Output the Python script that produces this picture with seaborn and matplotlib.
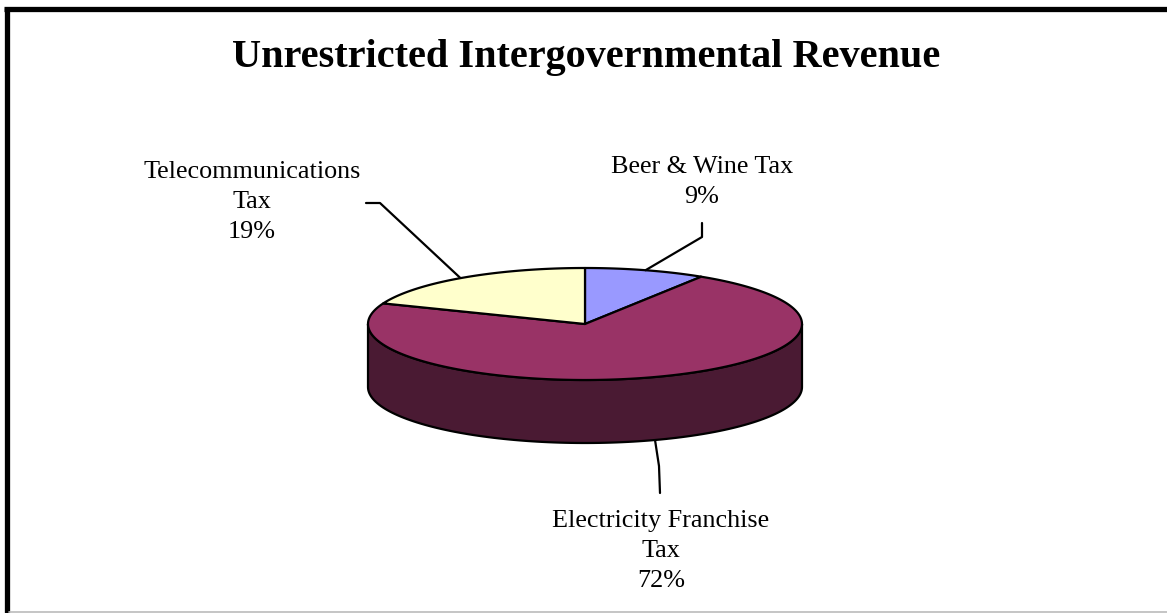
import numpy as np
import matplotlib
matplotlib.use("Agg")
import matplotlib.pyplot as plt
from matplotlib.patches import Polygon
from matplotlib.lines import Line2D
import seaborn as sns

# ---- data ----
categories = ["Beer & Wine Tax", "Electricity Franchise Tax", "Telecommunications Tax"]
shares = [9, 72, 19]
label_lines = ["Beer & Wine Tax\n9%", "Electricity Franchise\nTax\n72%", "Telecommunications\nTax\n19%"]
top_colors = ["#9999FF", "#993366", "#FFFFCC"]
side_colors = ["#4D4D80", "#4A1A33", "#808066"]
title = "Unrestricted Intergovernmental Revenue"

sns.set_theme(style="white")
plt.rcParams["font.family"] = ["Liberation Serif", "DejaVu Serif"]

W, H = 1167, 613
fig = plt.figure(figsize=(W / 100, H / 100), dpi=100)
ax = fig.add_axes([0, 0, 1, 1])
ax.set_xlim(0, W)
ax.set_ylim(H, 0)
ax.axis("off")

# geometry (pixel space)
cx, cy, a, b, depth = 585, 324, 217, 56, 63

def pt(theta_deg, dy=0):
    t = np.radians(theta_deg)
    return cx + a * np.sin(t), cy - b * np.cos(t) + dy

total = float(sum(shares))
starts, ends = [], []
acc = 0.0
for s in shares:
    starts.append(acc / total * 360)
    acc += s
    ends.append(acc / total * 360)

# side walls (front half: 90..270 deg)
for s, e, c in zip(starts, ends, side_colors):
    lo, hi = max(s, 90), min(e, 270)
    if hi <= lo:
        continue
    th = np.linspace(lo, hi, 120)
    top = [pt(t) for t in th]
    bot = [pt(t, depth) for t in th[::-1]]
    ax.add_patch(Polygon(top + bot, closed=True, facecolor=c, edgecolor="black",
                         lw=1.6, joinstyle="round", zorder=1))

# top faces
for s, e, c in zip(starts, ends, top_colors):
    th = np.linspace(s, e, 200)
    verts = [(cx, cy)] + [pt(t) for t in th]
    ax.add_patch(Polygon(verts, closed=True, facecolor=c, edgecolor="black",
                         lw=1.6, joinstyle="round", zorder=2))

fs = 18.8
ls = 1.47
# leader lines and labels
mids = [(s + e) / 2 for s, e in zip(starts, ends)]
# Beer & Wine
x0, y0 = pt(mids[0])
ax.add_line(Line2D([x0, 702, 702], [y0, 237, 223], color="black", lw=1.6, zorder=3))
ax.text(702, 182, label_lines[0], ha="center", va="center", fontsize=fs,
        linespacing=ls, color="black")
# Electricity
x1, y1 = pt(mids[1], depth)
ax.add_line(Line2D([x1 + 3, 659, 660], [y1, 466, 493], color="black", lw=1.6, zorder=3))
ax.text(661, 551, label_lines[1], ha="center", va="center", fontsize=fs,
        linespacing=ls, color="black")
# Telecommunications
x2, y2 = pt(mids[2])
ax.add_line(Line2D([x2 - 3, 380, 366], [y2, 203, 203], color="black", lw=1.6, zorder=3))
ax.text(252, 202, label_lines[2], ha="center", va="center", fontsize=fs,
        linespacing=ls, color="black")

# title
ax.text(586, 57, title, ha="center", va="center", fontsize=29, fontweight="bold",
        color="black")

# frame
ax.add_line(Line2D([6.5, 6.5], [8, H], color="black", lw=3.8, solid_capstyle="butt"))
ax.add_line(Line2D([4, W], [8.5, 8.5], color="black", lw=3.8, solid_capstyle="butt"))
ax.add_line(Line2D([9, W], [612, 612], color="#BBBBBB", lw=1.2))

fig.savefig("out.png", dpi=100)
